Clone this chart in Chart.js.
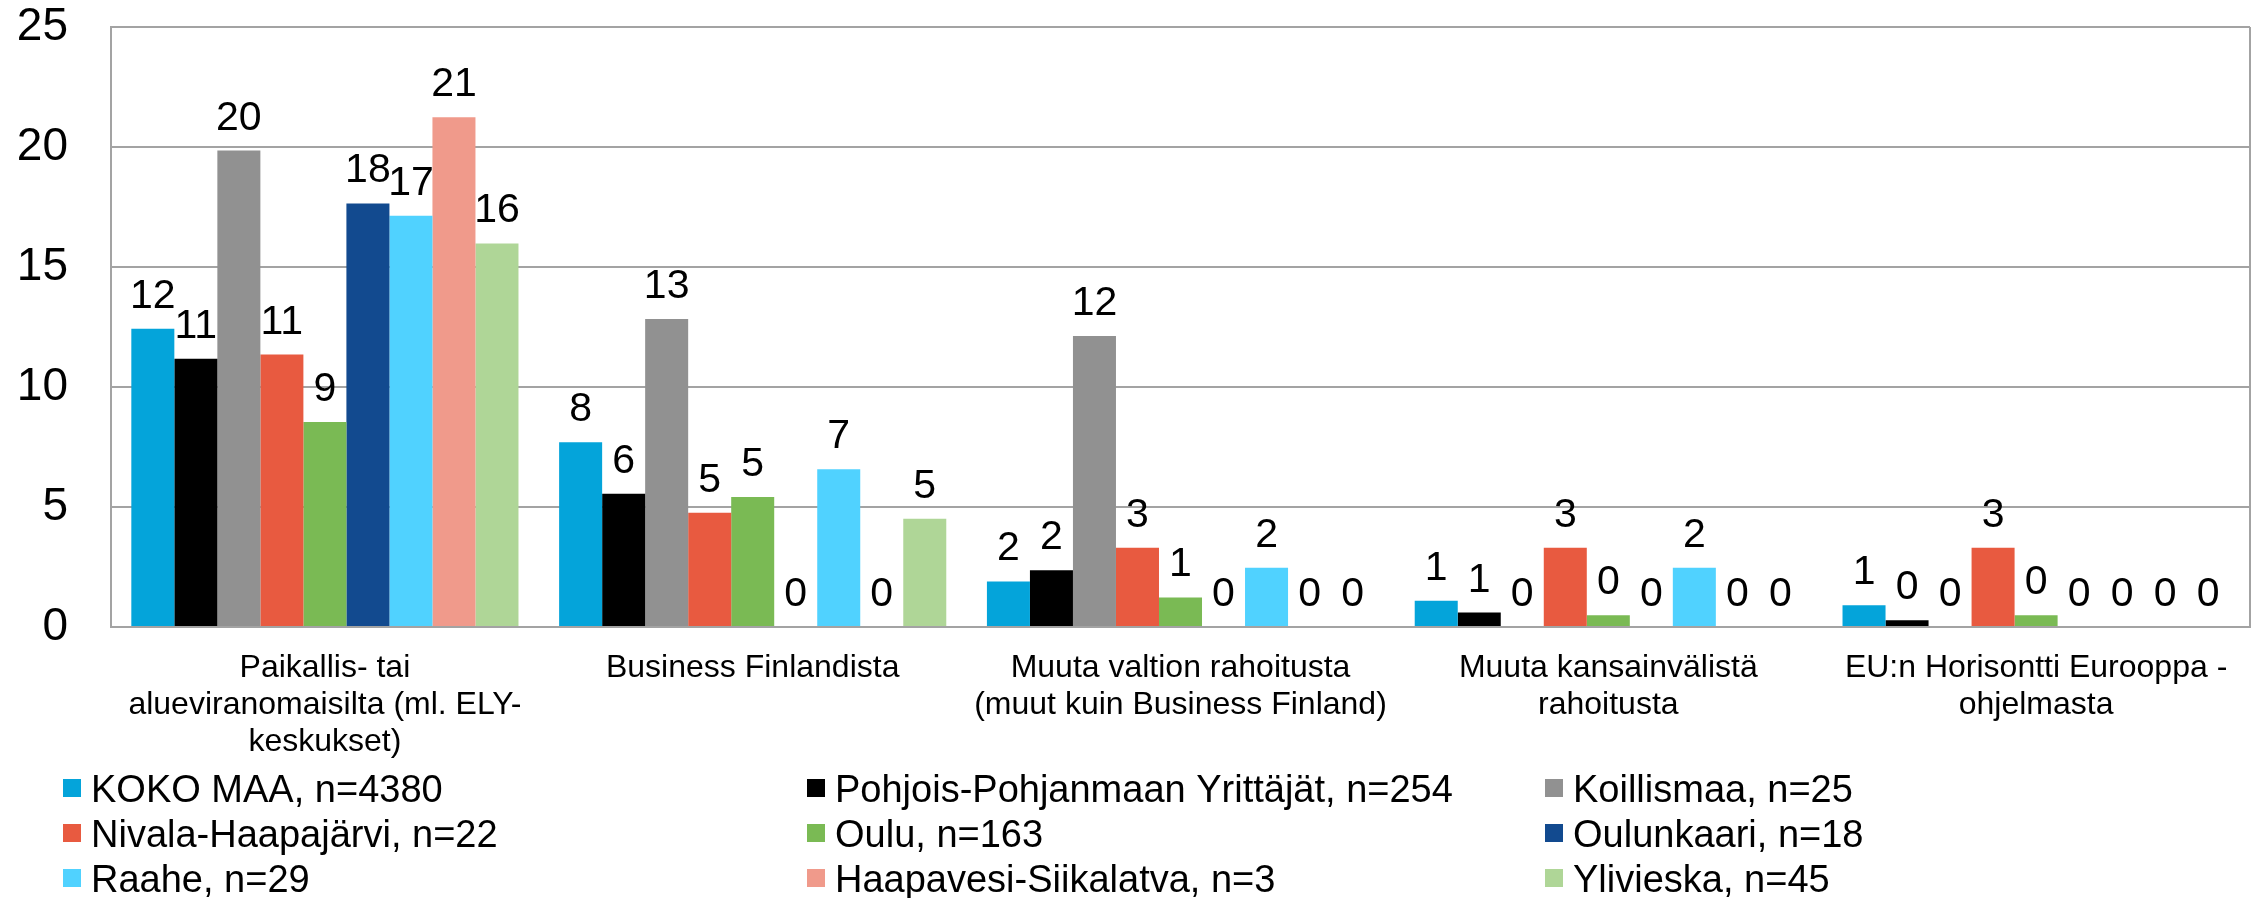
<!DOCTYPE html>
<html lang="fi">
<head>
    <meta charset="UTF-8">
    <title>Rahoituslähteet</title>
    <style>
        body { margin: 0; background: #fff; }
        #wrap { width: 2260px; height: 898px; position: relative; }
    </style>
</head>
<body>
<div id="wrap"><canvas id="myChart" width="2260" height="898"></canvas></div>

<script src="https://cdn.jsdelivr.net/npm/chart.js"></script>
<script>
    // categories on the x axis (multi-line labels as arrays)
    const categories = [
        ["Paikallis- tai", "alueviranomaisilta (ml. ELY-", "keskukset)"],
        "Business Finlandista",
        ["Muuta valtion rahoitusta", "(muut kuin Business Finland)"],
        ["Muuta kansainvälistä", "rahoitusta"],
        ["EU:n Horisontti Eurooppa -", "ohjelmasta"]
    ];

    const seriesNames = [
        "KOKO MAA, n=4380", "Pohjois-Pohjanmaan Yrittäjät, n=254", "Koillismaa, n=25",
        "Nivala-Haapajärvi, n=22", "Oulu, n=163", "Oulunkaari, n=18",
        "Raahe, n=29", "Haapavesi-Siikalatva, n=3", "Ylivieska, n=45"
    ];
    const seriesColors = [
        "#04a4da", "#000000", "#919191",
        "#e85a40", "#7aba54", "#124a8f",
        "#50d2ff", "#f09a8b", "#afd697"
    ];

    // values (%)
    const kokoMaa     = [12.43, 7.70, 1.90, 1.09, 0.91];
    const pohjois     = [11.18, 5.55, 2.36, 0.60, 0.28];
    const koillismaa  = [19.85, 12.83, 12.12, 0, 0];
    const nivala      = [11.35, 4.76, 3.30, 3.30, 3.30];
    const oulu        = [8.54, 5.42, 1.23, 0.49, 0.49];
    const oulunkaari  = [17.65, 0, 0, 0, 0];
    const raahe       = [17.14, 6.57, 2.47, 2.47, 0];
    const haapavesi   = [21.24, 0, 0, 0, 0];
    const ylivieska   = [15.98, 4.51, 0, 0, 0];

    const yMin = 0, yMax = 25, yStep = 5;

    const allSeries = [kokoMaa, pohjois, koillismaa, nivala, oulu, oulunkaari, raahe, haapavesi, ylivieska];

    const FONT = '"Liberation Sans", Arial, sans-serif';
    const GRID = '#a3a3a3';
    Chart.defaults.font.family = FONT;
    Chart.defaults.color = '#000';

    // right edge of the plot frame
    const frame = {
        id: 'frame',
        beforeDatasetsDraw(chart) {
            const { ctx, chartArea: a } = chart;
            ctx.save();
            ctx.strokeStyle = GRID;
            ctx.lineWidth = 2;
            ctx.beginPath();
            ctx.moveTo(a.right, a.top);
            ctx.lineTo(a.right, a.bottom);
            ctx.stroke();
            ctx.restore();
        }
    };

    // rounded value above each bar
    const valueLabels = {
        id: 'valueLabels',
        afterDatasetsDraw(chart) {
            const ctx = chart.ctx;
            ctx.save();
            ctx.font = '41px ' + FONT;
            ctx.fillStyle = '#000';
            ctx.textAlign = 'center';
            ctx.textBaseline = 'alphabetic';
            chart.data.datasets.forEach((ds, i) => {
                chart.getDatasetMeta(i).data.forEach((bar, j) => {
                    ctx.fillText(Math.round(ds.data[j]), bar.x, bar.y - 21);
                });
            });
            ctx.restore();
        }
    };

    // legend in three columns under the axis labels
    const gridLegend = {
        id: 'gridLegend',
        afterDraw(chart) {
            const ctx = chart.ctx;
            const colX = [63, 807, 1545];
            const rowY = [802, 847, 892];
            ctx.save();
            ctx.font = '38px ' + FONT;
            ctx.textBaseline = 'alphabetic';
            ctx.textAlign = 'left';
            chart.data.datasets.forEach((ds, i) => {
                const x = colX[i % 3], y = rowY[Math.floor(i / 3)];
                ctx.fillStyle = ds.backgroundColor;
                ctx.fillRect(x, y - 23, 18, 18);
                ctx.fillStyle = '#000';
                ctx.fillText(ds.label, x + 28, y);
            });
            ctx.restore();
        }
    };

    new Chart(document.getElementById('myChart'), {
        type: 'bar',
        data: {
            labels: categories,
            datasets: allSeries.map((d, i) => ({
                label: seriesNames[i],
                data: d,
                backgroundColor: seriesColors[i],
                borderWidth: 0,
                barPercentage: 1,
                categoryPercentage: 0.905
            }))
        },
        options: {
            responsive: false,
            animation: false,
            layout: { padding: { top: 27, right: 10, left: 0, bottom: 0 } },
            plugins: {
                legend: { display: false },
                tooltip: { enabled: false }
            },
            scales: {
                x: {
                    grid: { display: false, drawTicks: false },
                    border: { display: true, color: GRID, width: 2 },
                    ticks: {
                        font: { size: 32, lineHeight: 1.15 },
                        color: '#000',
                        padding: 23,
                        maxRotation: 0,
                        autoSkip: false
                    },
                    afterFit(scale) {
                        scale.height = 271;
                        scale.paddingLeft = 0;
                        scale.paddingRight = 0;
                    }
                },
                y: {
                    min: yMin,
                    max: yMax,
                    grid: { color: GRID, lineWidth: 2, drawTicks: false },
                    border: { display: true, color: GRID, width: 2 },
                    ticks: {
                        stepSize: yStep,
                        font: { size: 46 },
                        color: '#000',
                        padding: 43
                    },
                    afterFit(scale) {
                        scale.width = 111;
                        scale.paddingTop = 0;
                        scale.paddingBottom = 0;
                    }
                }
            }
        },
        plugins: [frame, valueLabels, gridLegend]
    });
</script>
</body>
</html>
